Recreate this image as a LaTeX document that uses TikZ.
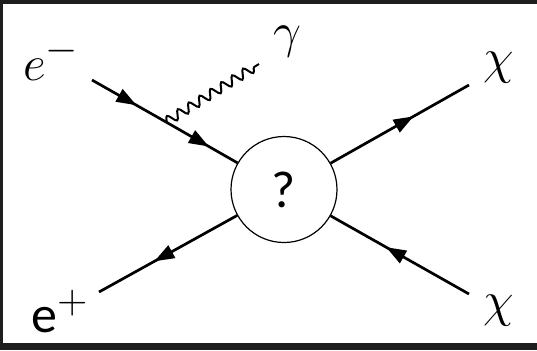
\documentclass[tikz,border=0pt]{standalone}
\usepackage{fontspec}
\newfontfamily\calibri{Carlito}
\usetikzlibrary{arrows.meta,decorations.markings,decorations.pathmorphing}
\definecolor{ink}{HTML}{000000}
\definecolor{framecol}{HTML}{1E1E1E}
\newcommand{\labelfont}{\fontsize{28}{30}\selectfont}
\tikzset{
 every node/.append style={text=ink,inner sep=0pt},
 particle/.style={font=\labelfont},
 blob/.style={circle,draw=ink,line width=.6pt,minimum size=53pt,font=\calibri\fontsize{26}{28}\selectfont},
 fermion/.style={draw=ink,line width=1.35pt,postaction={decorate},
   decoration={markings,mark=at position .6 with {\arrow{Triangle[length=10pt,width=7pt]}}}},
 photon/.style={draw=ink,line width=1pt,decorate,
   decoration={snake,amplitude=2.3pt,segment length=6.4pt}},
}

\begin{document}
\begin{tikzpicture}[x=.5pt,y=-.5pt]

% frame of the screenshot
\fill[framecol] (0,0) rectangle (537,350);
\fill[white] (3,4) rectangle (537,343);
\useasboundingbox (0,0) rectangle (537,350);

\node[blob] (blob) at (284,189.5) {?};

\coordinate (ein) at (92,80);
\coordinate (vtx) at (166,122);
\coordinate (gend) at (259,64);
\coordinate (pout) at (99,292);
\coordinate (cout) at (469,85);
\coordinate (cin) at (469,294);

\node[particle,anchor=base west] (em) at (23,80) {$e^-$};
\node[particle,anchor=base west] (ep) at (31,332) {{\calibri\fontsize{26}{28}\selectfont e}$^{+}$};
\node[particle] (gam) at (287,42) {$\gamma$};
\node[particle] (chiup) at (499,67.5) {$\chi$};
\node[particle] (chidown) at (499,310.5) {$\chi$};

\draw[fermion] (ein) -- (vtx);
\draw[fermion] (vtx) -- (blob);
\draw[photon] (vtx) -- (gend);
\draw[fermion] (blob) -- (cout);
\draw[fermion] (blob) -- (pout);
\draw[fermion] (cin) -- (blob);

\end{tikzpicture}
\end{document}
